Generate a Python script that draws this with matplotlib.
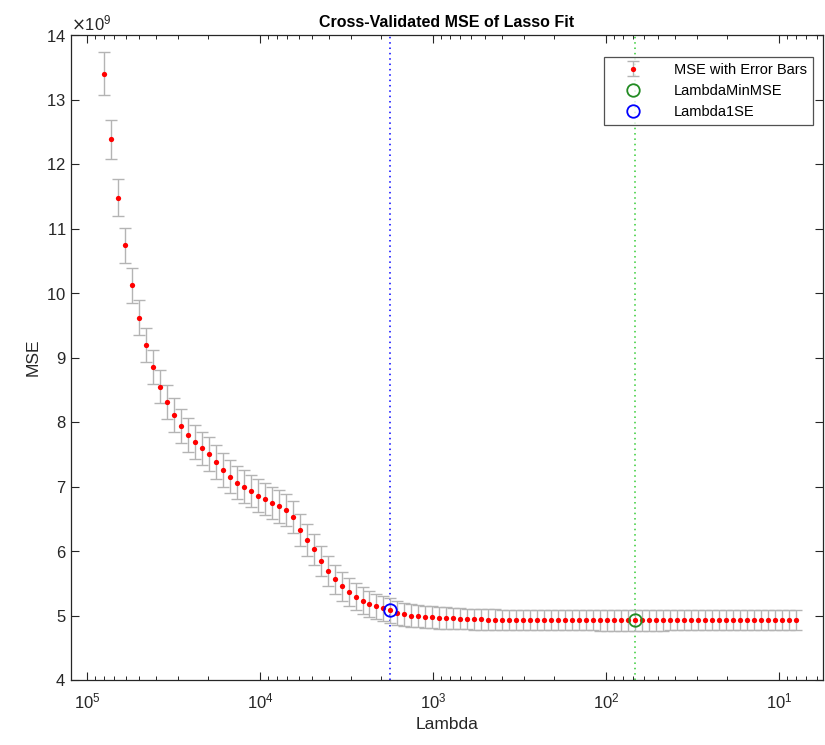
import matplotlib
matplotlib.use("Agg")
import matplotlib.pyplot as plt
import matplotlib.ticker as mticker
import numpy as np

plt.rcParams['font.family'] = ['Liberation Sans', 'DejaVu Sans']

# lambda grid (100 values, ratio 1e-4, like MATLAB lasso default)
lam_max = 8.0e4
lam_min = 8.0
n_lambda = 100

# cross-validated MSE, in units of 1e9
mse = [13.40, 12.38, 11.48, 10.74, 10.12, 9.62, 9.19, 8.85, 8.55, 8.31,
       8.11, 7.94, 7.80, 7.69, 7.59, 7.50, 7.38, 7.26, 7.15, 7.06,
       7.00, 6.93, 6.86, 6.81, 6.75, 6.69, 6.64, 6.53, 6.33, 6.17,
       6.03, 5.85, 5.69, 5.56, 5.45, 5.37, 5.29, 5.23, 5.18, 5.14,
       5.11, 5.08, 5.04, 5.02, 5.00, 4.99, 4.98, 4.97, 4.965, 4.96,
       4.955, 4.95, 4.945, 4.94, 4.94, 4.935, 4.934, 4.933, 4.933, 4.932,
       4.932, 4.931, 4.931, 4.930, 4.930, 4.929, 4.929, 4.929, 4.928, 4.928,
       4.928, 4.927, 4.927, 4.927, 4.926, 4.926, 4.925, 4.926, 4.926, 4.927,
       4.927, 4.928, 4.928, 4.928, 4.929, 4.929, 4.929, 4.930, 4.930, 4.930,
       4.930, 4.931, 4.931, 4.931, 4.931, 4.931, 4.932, 4.932, 4.932, 4.932]

# standard error of the MSE, in units of 1e9
se = [0.33, 0.30, 0.28, 0.27, 0.27, 0.265, 0.265, 0.26, 0.26, 0.26,
      0.26, 0.26, 0.26, 0.26, 0.26, 0.26, 0.26, 0.26, 0.255, 0.255,
      0.255, 0.255, 0.25, 0.25, 0.25, 0.25, 0.25, 0.25, 0.245, 0.245,
      0.24, 0.235, 0.23, 0.225, 0.22, 0.215, 0.21, 0.205, 0.20, 0.195,
      0.19, 0.19, 0.185, 0.18, 0.18, 0.175, 0.175, 0.17, 0.17, 0.165,
      0.165, 0.16, 0.16, 0.16, 0.16, 0.16, 0.16, 0.16, 0.16, 0.16,
      0.16, 0.16, 0.16, 0.16, 0.16, 0.16, 0.16, 0.16, 0.16, 0.16,
      0.16, 0.16, 0.16, 0.16, 0.16, 0.16, 0.16, 0.16, 0.16, 0.16,
      0.16, 0.16, 0.16, 0.16, 0.16, 0.16, 0.16, 0.16, 0.16, 0.16,
      0.16, 0.16, 0.16, 0.16, 0.16, 0.16, 0.16, 0.16, 0.16, 0.16]

idx_min_mse = 76
idx_1se = 41

lam = np.geomspace(lam_max, lam_min, n_lambda)
mse = np.array(mse) * 1e9
se = np.array(se) * 1e9

fig = plt.figure(figsize=(8.25, 7.45), dpi=100)
ax = fig.add_axes([71 / 825, 65 / 745, 752 / 825, 645 / 745])

gray = '#b4b4b4'
eb = ax.errorbar(lam, mse, yerr=se, fmt='o', color='red', ms=3.8, mec='none',
                 ecolor=gray, elinewidth=1.0, capsize=4.6, capthick=1.0,
                 label='MSE with Error Bars', zorder=3)

ax.axvline(lam[idx_1se], color='blue', ls=(0, (1, 2.5)), lw=1.1, zorder=2)
ax.axvline(lam[idx_min_mse], color='#33cc33', ls=(0, (1, 2.5)), lw=1.1, zorder=2)

h_min, = ax.plot(lam[idx_min_mse], mse[idx_min_mse], 'o', mfc='none', mec='#228b22',
                 ms=9, mew=1.3, label='LambdaMinMSE', zorder=4)
h_1se, = ax.plot(lam[idx_1se], mse[idx_1se], 'o', mfc='none', mec='blue',
                 ms=9, mew=1.3, label='Lambda1SE', zorder=4)

ax.set_xscale('log')
ax.set_xlim(1.24e5, 5.57)
ax.set_ylim(4e9, 14e9)
ax.set_yticks(np.arange(4, 15) * 1e9)

fmt = mticker.ScalarFormatter(useMathText=True)
fmt.set_powerlimits((9, 9))
ax.yaxis.set_major_formatter(fmt)
ax.yaxis.get_offset_text().set_fontsize(12)
ax.yaxis.get_offset_text().set_color('#262626')

axcol = '#262626'
for s in ax.spines.values():
    s.set_color(axcol)
    s.set_linewidth(0.9)
ax.tick_params(which='both', direction='in', top=True, right=True,
               colors=axcol, labelsize=12, labelcolor='#262626')
ax.tick_params(which='major', length=6, width=0.8)
ax.tick_params(which='minor', length=3, width=0.7)
ax.tick_params(axis='x', pad=8)

ax.set_title('Cross-Validated MSE of Lasso Fit', fontsize=11.5,
             fontweight='bold', pad=6)
ax.set_xlabel('Lambda', fontsize=12.5, color='#262626')
ax.set_ylabel('MSE', fontsize=12.5, color='#262626')

leg = ax.legend([eb, h_min, h_1se], ['MSE with Error Bars', 'LambdaMinMSE', 'Lambda1SE'],
                loc='upper right', fontsize=10.5, frameon=True, fancybox=False,
                edgecolor=axcol, borderpad=0.4, handlelength=3.2,
                handletextpad=1.2, borderaxespad=0.3,
                bbox_to_anchor=(0.992, 0.973))
leg.get_frame().set_linewidth(0.9)

fig.savefig('out.png', dpi=100)
